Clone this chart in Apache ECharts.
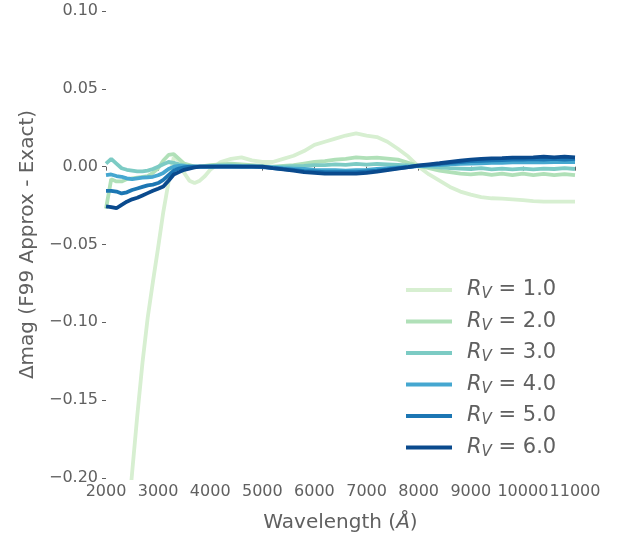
<!DOCTYPE html>
<html><head><meta charset="utf-8">
<script src="https://cdn.jsdelivr.net/npm/echarts@6/dist/echarts.min.js"></script>
<style>html,body{margin:0;padding:0;background:#fff}#c{width:626px;height:537px}</style>
</head><body><div id="c"></div>
<script>
const wavelengths = [2000,2100,2200,2300,2400,2500,2600,2700,2800,2900,3000,3100,3200,3300,3400,3500,3600,3700,3800,3900,
 4000,4200,4400,4600,4800,5000,5200,5400,5600,5800,6000,6200,6400,6600,6800,7000,7200,7400,7600,7800,
 8000,8200,8400,8600,8800,9000,9200,9400,9600,9800,10000,10200,10400,10600,10800,11000];

const rv1 = [-0.40,-0.37,-0.33,-0.28,-0.235,-0.197,-0.16,-0.126,-0.097,-0.074,-0.052,-0.029,-0.010,0.006,0.004,-0.004,-0.009,-0.0105,-0.009,-0.006,
 -0.002,0.003,0.005,0.006,0.004,0.003,0.003,0.005,0.007,0.010,0.014,0.016,0.018,0.020,0.0214,0.020,0.019,0.016,0.0115,0.0065,
 0.000,-0.005,-0.009,-0.013,-0.016,-0.018,-0.0195,-0.0203,-0.0205,-0.021,-0.0215,-0.0222,-0.0225,-0.0225,-0.0225,-0.0225];

const rv2 = [-0.027,-0.008,-0.0095,-0.0095,-0.008,-0.0075,-0.007,-0.0065,-0.006,-0.004,-0.001,0.004,0.0075,0.008,0.005,0.002,0.001,0.000,0.000,0.0005,
 0.001,0.0015,0.002,0.0015,0.001,0.0005,0.000,0.0005,0.001,0.002,0.003,0.0035,0.0045,0.005,0.006,0.0055,0.0058,0.0052,0.0045,0.0025,
 0.0005,-0.001,-0.0025,-0.0035,-0.0045,-0.005,-0.0043,-0.0053,-0.0045,-0.0055,-0.0045,-0.0055,-0.0047,-0.0055,-0.0048,-0.0055];

const rv3 = [0.002,0.005,0.002,-0.001,-0.002,-0.0025,-0.003,-0.003,-0.0025,-0.0015,0.000,0.0015,0.003,0.0025,0.0015,0.0008,0.000,0.000,0.000,0.000,
 0.0005,0.0008,0.0008,0.0005,0.0003,0.000,-0.0003,0.000,0.0003,0.0005,0.001,0.001,0.0015,0.0012,0.0018,0.0013,0.0018,0.0015,0.0012,0.0008,
 0.0003,0.000,-0.0005,-0.001,-0.0012,-0.0015,-0.001,-0.0018,-0.0012,-0.0018,-0.0012,-0.0018,-0.0012,-0.0015,-0.001,-0.0015];

const rv4 = [-0.0055,-0.005,-0.006,-0.0065,-0.0075,-0.008,-0.0075,-0.007,-0.0068,-0.0065,-0.0055,-0.004,-0.0015,0.000,0.0005,0.0003,0.000,0.000,0.000,0.000,
 0.000,0.0002,0.0002,0.000,0.000,0.000,-0.0005,-0.001,-0.0012,-0.0015,-0.002,-0.0022,-0.0022,-0.0025,-0.0022,-0.002,-0.0015,-0.001,-0.0005,0.000,
 0.0003,0.0008,0.001,0.0015,0.0018,0.002,0.0022,0.0025,0.0025,0.0028,0.0028,0.003,0.0028,0.003,0.003,0.003];

const rv5 = [-0.0155,-0.0155,-0.016,-0.0172,-0.0165,-0.015,-0.014,-0.013,-0.012,-0.0115,-0.0105,-0.0085,-0.0055,-0.0025,-0.0012,-0.0005,0.000,0.000,0.000,0.000,
 0.000,0.000,0.000,0.000,0.000,-0.0003,-0.001,-0.0015,-0.002,-0.0028,-0.003,-0.0035,-0.0035,-0.0035,-0.0035,-0.003,-0.0025,-0.0018,-0.001,-0.0003,
 0.0005,0.001,0.0018,0.0025,0.003,0.0035,0.0038,0.004,0.0042,0.0045,0.0045,0.0048,0.0045,0.005,0.0045,0.005];

const rv6 = [-0.0255,-0.026,-0.0267,-0.0245,-0.0225,-0.021,-0.020,-0.0185,-0.017,-0.0155,-0.0142,-0.0128,-0.009,-0.005,-0.0035,-0.002,-0.0012,-0.0005,0.000,0.000,
 0.000,0.000,0.000,0.000,0.000,0.000,-0.001,-0.0018,-0.0025,-0.0035,-0.004,-0.0045,-0.0045,-0.0045,-0.0045,-0.004,-0.0032,-0.0022,-0.0012,-0.0003,
 0.0008,0.0015,0.0022,0.003,0.0038,0.0045,0.005,0.0053,0.0055,0.0058,0.0058,0.006,0.0065,0.006,0.0065,0.006];

const rvLabels = ['1.0','2.0','3.0','4.0','5.0','6.0'];
const seriesValues = [rv1, rv2, rv3, rv4, rv5, rv6];
const colors = ['#d7efd1','#b0e0b8','#7ccbc4','#45a7d0','#1c76b3','#0a4a8d'];
const xTicks = [2000,3000,4000,5000,6000,7000,8000,9000,10000,11000];
const yTicks = [-0.20,-0.15,-0.10,-0.05,0.00,0.05,0.10];

const FONT = 'DejaVu Sans';
const GRAY = '#606060';
const chart = echarts.init(document.getElementById('c'), null, {renderer:'canvas'});
const series = seriesValues.map((vals, i) => ({
  name: 'R' + rvLabels[i],
  type: 'line',
  symbol: 'none',
  clip: true,
  data: wavelengths.map((w, j) => [w, vals[j]]),
  lineStyle: { color: colors[i], width: 3.8 },
  itemStyle: { color: colors[i] },
  z: 2 + i
}));

chart.setOption({
  animation: false,
  textStyle: { fontFamily: FONT },
  grid: { left: 106, right: 51, top: 11, bottom: 59, containLabel: false, outerBoundsMode: 'none' },
  xAxis: {
    type: 'value', min: xTicks[0], max: xTicks[xTicks.length-1], interval: 1000,
    axisLine: { show: false },
    axisTick: { show: true, length: 4, lineStyle: { color: GRAY, width: 1 } },
    axisLabel: { color: GRAY, fontSize: 16, fontFamily: FONT, margin: 6, hideOverlap: false,
      showMinLabel: true, showMaxLabel: true, formatter: v => String(v) },
    splitLine: { show: false },
    name: 'Wavelength ({i|Å})', nameLocation: 'middle', nameGap: 35,
    nameTextStyle: { color: GRAY, fontSize: 20, fontFamily: FONT,
      rich: { i: { fontStyle: 'italic', fontSize: 20, color: GRAY, fontFamily: FONT } } }
  },
  yAxis: {
    type: 'value', min: yTicks[0], max: yTicks[yTicks.length-1], interval: 0.05,
    axisLine: { show: false },
    axisTick: { show: true, length: 4, lineStyle: { color: GRAY, width: 1 } },
    axisLabel: { color: GRAY, fontSize: 16, fontFamily: FONT, margin: 8, hideOverlap: false,
      showMinLabel: true, showMaxLabel: true,
      formatter: v => { const r = Math.round(v*100)/100; return (r < 0 ? '\u2212' : '') + Math.abs(r).toFixed(2); } },
    splitLine: { show: false },
    name: 'Δmag (F99 Approx - Exact)', nameLocation: 'middle', nameGap: 67, nameRotate: 90,
    nameTextStyle: { color: GRAY, fontSize: 20, fontFamily: FONT }
  },
  legend: {
    left: 401, top: 273, orient: 'vertical',
    icon: 'rect', itemWidth: 46, itemHeight: 4, itemGap: 7.5,
    data: series.map(s => s.name),
    formatter: name => '{i|R}{s|V} = ' + name.slice(1),
    textStyle: { color: GRAY, fontSize: 21, fontFamily: FONT, lineHeight: 24, padding: [0,0,0,10],
      rich: {
        i: { fontStyle: 'italic', fontSize: 21, color: GRAY, fontFamily: FONT, lineHeight: 24 },
        s: { fontStyle: 'italic', fontSize: 15, color: GRAY, fontFamily: FONT, verticalAlign: 'bottom', padding: [8,0,0,0], lineHeight: 24 }
      } }
  },
  series: series
});
</script></body></html>
